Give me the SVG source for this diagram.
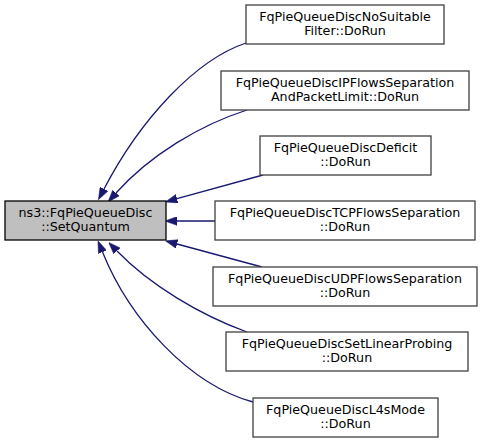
<svg xmlns="http://www.w3.org/2000/svg" width="483" height="443" viewBox="0 0 483 443">
<defs>
<marker id="ah" markerUnits="userSpaceOnUse" markerWidth="12" markerHeight="9" viewBox="0 0 11 8" refX="0" refY="4" orient="auto">
<path d="M0,0 L11,4 L0,8 z" fill="#191970" stroke="#191970" stroke-width="0.5"/>
</marker>
<style>
.n rect{fill:#ffffff;stroke:#404040;stroke-width:1.3}
#root rect{fill:#bfbfbf;stroke:#000000}
.n text{font-family:"DejaVu Sans",sans-serif;font-size:12.7px;text-anchor:middle;fill:#000}
#edges path{fill:none;stroke:#191970;stroke-width:1.3;marker-end:url(#ah)}
</style>
</defs>
<rect width="483" height="443" fill="#ffffff"/>
<g id="edges">
<path d="M246,43 C195,60 140,120 104,189"/>
<path d="M247,110 C200,125 150,155 116,193"/>
<path d="M263,175 L177,198.7"/>
<path d="M215,221 L177,221"/>
<path d="M262,267 L177,244"/>
<path d="M247,332 C200,315 150,285 117,251"/>
<path d="M253,402 C190,385 130,320 102.5,252"/>
</g>
<g id="root" class="n"><rect x="5" y="201" width="161" height="39"/><text x="85.5" y="217">ns3::FqPieQueueDisc</text><text x="85.5" y="231">::SetQuantum</text></g>
<g id="n1" class="n"><rect x="246" y="5" width="198" height="39"/><text x="345" y="21">FqPieQueueDiscNoSuitable</text><text x="345" y="35">Filter::DoRun</text></g>
<g id="n2" class="n"><rect x="221" y="71" width="248" height="39"/><text x="345" y="87">FqPieQueueDiscIPFlowsSeparation</text><text x="345" y="101">AndPacketLimit::DoRun</text></g>
<g id="n3" class="n"><rect x="260" y="136" width="171" height="39"/><text x="345.5" y="152">FqPieQueueDiscDeficit</text><text x="345.5" y="166">::DoRun</text></g>
<g id="n4" class="n"><rect x="215" y="201" width="260" height="39"/><text x="345" y="217">FqPieQueueDiscTCPFlowsSeparation</text><text x="345" y="231">::DoRun</text></g>
<g id="n5" class="n"><rect x="213" y="267" width="264" height="39"/><text x="345" y="283">FqPieQueueDiscUDPFlowsSeparation</text><text x="345" y="297">::DoRun</text></g>
<g id="n6" class="n"><rect x="226" y="332" width="242" height="39"/><text x="347" y="348">FqPieQueueDiscSetLinearProbing</text><text x="347" y="362">::DoRun</text></g>
<g id="n7" class="n"><rect x="253" y="398" width="185" height="39"/><text x="345.5" y="414">FqPieQueueDiscL4sMode</text><text x="345.5" y="428">::DoRun</text></g>
</svg>
